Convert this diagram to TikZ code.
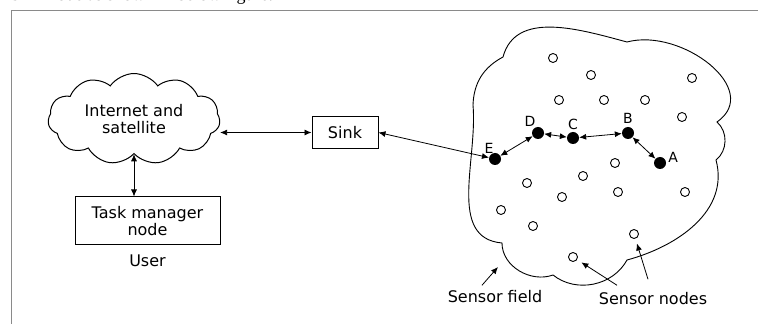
\documentclass[tikz,border=0pt]{standalone}
\usepackage{fontspec}
\setmainfont{DejaVu Sans}
\newfontfamily\pagefont{Liberation Serif}
\usetikzlibrary{arrows.meta,positioning,shapes.symbols}
\definecolor{framegray}{HTML}{8A8A8A}

\begin{document}
\begin{tikzpicture}[
  x=1pt, y=1pt,
  every node/.style={font=\fontsize{16}{17}\selectfont, align=center},
  box/.style={draw, line width=1pt, inner sep=0pt},
  arr/.style={{Latex[length=7pt,width=6pt]}-{Latex[length=7pt,width=6pt]}, line width=0.8pt},
  onearr/.style={-{Latex[length=7pt,width=6pt]}, line width=0.8pt},
  idle/.style={circle, draw, line width=0.9pt, minimum size=9pt, inner sep=0pt},
  hop/.style={circle, fill, minimum size=12pt, inner sep=0pt},
  lbl/.style={font=\fontsize{14}{16}\selectfont, inner sep=1pt},
]
  \clip (0,0) rectangle (758,324);

  % page text and frame
  \node[anchor=base west, inner sep=0pt, font=\pagefont\fontsize{18}{20}\selectfont] (caption) at (-3,323) {n Sink node as shown in below figure.};
  \draw[framegray, line width=0.9pt] (11,0) -- (11,314) -- (758,314);

  % user side
  \node[cloud, draw, line width=1pt, cloud puffs=11, cloud puff arc=110, aspect=1.9,
        minimum width=172pt, minimum height=90pt, inner sep=0pt] (net) at (134,205) {Internet and\\satellite};
  \node[box, minimum width=145pt, minimum height=48pt] (task) at (147.5,103) {Task manager\\node};
  \node[below=6pt of task] (user) {User};
  \node[box, minimum width=66pt, minimum height=32pt] (sink) at (345,191.5) {Sink};

  % sensor field
  \draw[line width=0.9pt] (473,219) to[bend left=30] (503,267) to[out=75, in=165] (627,282)
    to[out=15, in=35, looseness=1.2] (717,202) to[bend left=50] (716,164)
    to[out=-75, in=15] (627,64) to[bend left=50] (553,49) to[out=200, in=-90] (502,81)
    to[out=175, in=-85] (473,219);

  % idle sensor nodes
  \foreach \x/\y [count=\i] in {553/266, 591/249, 692/246, 559/224, 604/224, 645/224, 682/207,
      615/161, 583/148, 527/141, 562/127, 618/132, 685/132, 501/114, 533/98, 634/90, 573/67}
    \node[idle] (s\i) at (\x,\y) {};

  % route nodes
  \node[hop] (E) at (495,165) {};
  \node[hop] (D) at (538,191) {};
  \node[hop] (C) at (573,186) {};
  \node[hop] (B) at (628,191) {};
  \node[hop] (A) at (660,161) {};
  \node[lbl, above left=0pt and -4pt of E] {E};
  \node[lbl, above left=1pt and -3pt of D] {D};
  \node[lbl, above=1pt of C] {C};
  \node[lbl, above=2pt of B] {B};
  \node[lbl, right=1pt of A, yshift=6pt] {A};

  % labels
  \node (fieldlbl) at (495,27) {Sensor field};
  \node (nodeslbl) at (653,25) {Sensor nodes};

  % links
  \draw[arr] (net.south) -- (net.south |- task.north);
  \draw[arr] (sink.west -| net.east) -- (sink.west);
  \draw[arr] (sink.east) -- (E);
  \draw[arr] (E) -- (D);
  \draw[arr] (D) -- (C);
  \draw[arr] (C) -- (B);
  \draw[arr] (B) -- (A);
  \draw[onearr] ([xshift=-13pt,yshift=2pt]fieldlbl.north) -- (498,57);
  \draw[onearr, shorten >=5pt] ([xshift=-36pt,yshift=4pt]nodeslbl.north) -- (s17);
  \draw[onearr, shorten >=5pt] ([xshift=-5pt,yshift=10pt]nodeslbl.north) -- (s16);
\end{tikzpicture}
\end{document}
